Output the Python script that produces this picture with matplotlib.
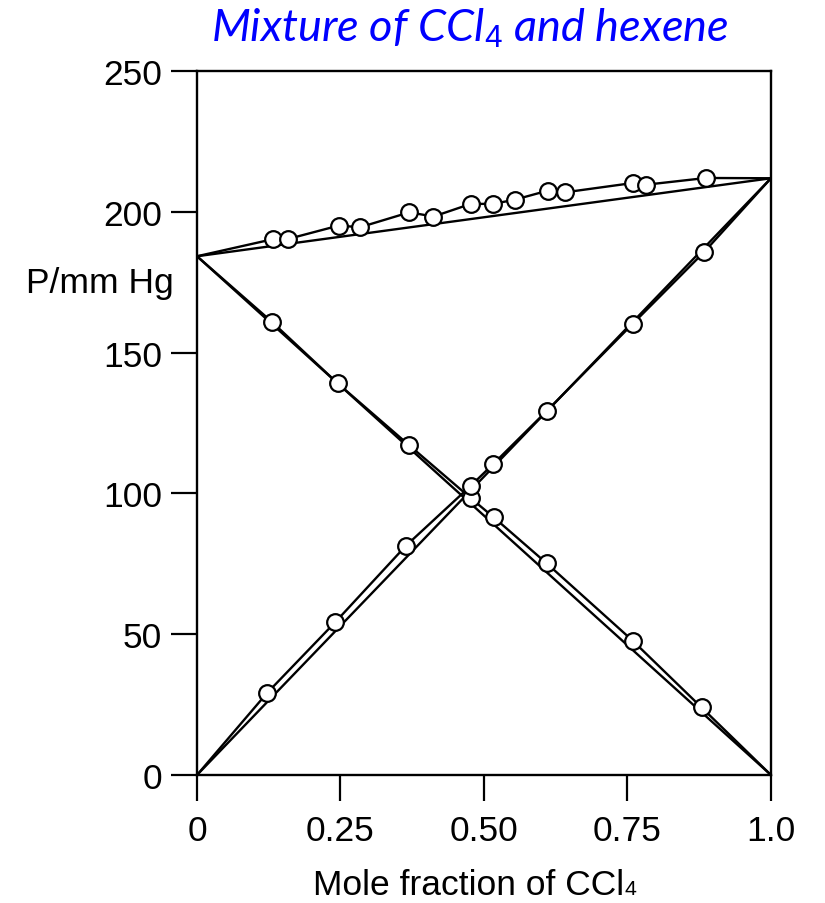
import matplotlib
matplotlib.use('Agg')
import matplotlib.pyplot as plt
from matplotlib.offsetbox import TextArea, HPacker, AnnotationBbox

plt.rcParams['font.family'] = ['Liberation Sans', 'DejaVu Sans']
plt.rcParams['mathtext.fontset'] = 'custom'
plt.rcParams['mathtext.rm'] = 'Liberation Sans'
plt.rcParams['mathtext.it'] = 'Lato:italic'

# pure-component vapour pressures (mm Hg)
p_hexene = 184.2
p_ccl4 = 211.9

# measured total pressure
x_total = [0.133, 0.158, 0.247, 0.284, 0.370, 0.412, 0.477, 0.516, 0.554, 0.611, 0.641, 0.759, 0.782, 0.887]
p_total = [190.3, 190.3, 195.1, 194.5, 199.8, 198.3, 202.8, 202.8, 204.3, 207.5, 206.9, 210.2, 209.6, 212.0]

# measured partial pressure of CCl4
x_ccl4 = [0.122, 0.241, 0.364, 0.477, 0.516, 0.610, 0.759, 0.884]
p_ccl4_meas = [29.1, 54.3, 81.4, 102.7, 110.4, 129.4, 160.2, 185.8]

# measured partial pressure of hexene
x_hex = [0.130, 0.245, 0.369, 0.477, 0.517, 0.609, 0.759, 0.879]
p_hex_meas = [161.0, 139.1, 117.2, 98.3, 91.5, 75.2, 47.7, 24.0]

xticks = [0, 0.25, 0.5, 0.75, 1.0]
xtick_labels = ['0', '0.25', '0.50', '0.75', '1.0']
yticks = [0, 50, 100, 150, 200, 250]

fs = 25.5
lw = 1.7
fig = plt.figure(figsize=(8.25, 9.04), dpi=100)
ax = fig.add_axes([0.2388, 0.1416, 0.6957, 0.7788])

# ideal (Raoult) lines
ax.plot([0, 1], [p_hexene, p_ccl4], color='black', lw=lw)
ax.plot([0, 1], [p_hexene, 0], color='black', lw=lw)
ax.plot([0, 1], [0, p_ccl4], color='black', lw=lw)

# lines through the measured points
ax.plot([0] + x_total + [1], [p_hexene] + p_total + [p_ccl4], color='black', lw=lw)
ax.plot([0] + x_hex + [1], [p_hexene] + p_hex_meas + [0], color='black', lw=lw)
ax.plot([0] + x_ccl4 + [1], [0] + p_ccl4_meas + [p_ccl4], color='black', lw=lw)

mk = dict(ls='none', marker='o', ms=12, mfc='white', mec='black', mew=1.6, zorder=5)
ax.plot(x_total, p_total, **mk)
ax.plot(x_hex, p_hex_meas, **mk)
ax.plot(x_ccl4, p_ccl4_meas, **mk)

ax.set_xlim(0, 1)
ax.set_ylim(0, 250)
ax.set_xticks(xticks)
ax.set_xticklabels(xtick_labels)
ax.set_yticks(yticks)
ax.tick_params(direction='out', length=19, width=1.6, labelsize=fs, pad=6)
ax.tick_params(axis='x', pad=9)
for s in ax.spines.values():
    s.set_linewidth(1.7)

ax.set_ylabel('P/mm Hg', rotation=0, fontsize=fs, ha='center', va='center')
ax.yaxis.set_label_coords(-0.169, 0.700)

# x label with a small "4" sitting on the baseline
lab = HPacker(children=[TextArea('Mole fraction of CCl', textprops=dict(fontsize=fs)),
                        TextArea('4', textprops=dict(fontsize=fs * 0.6))],
              align='baseline', pad=0, sep=0)
ab = AnnotationBbox(lab, (0.484, -0.155), xycoords='axes fraction',
                    box_alignment=(0.5, 0.5), frameon=False, annotation_clip=False)
ax.add_artist(ab)

fig.text(0.570, 0.955, 'Mixture of CCl$_\\mathit{4}$ and hexene', color='#0000ff',
         fontsize=32.5, family='Lato', style='italic', ha='center', va='baseline')

fig.savefig('out.png', dpi=100)
